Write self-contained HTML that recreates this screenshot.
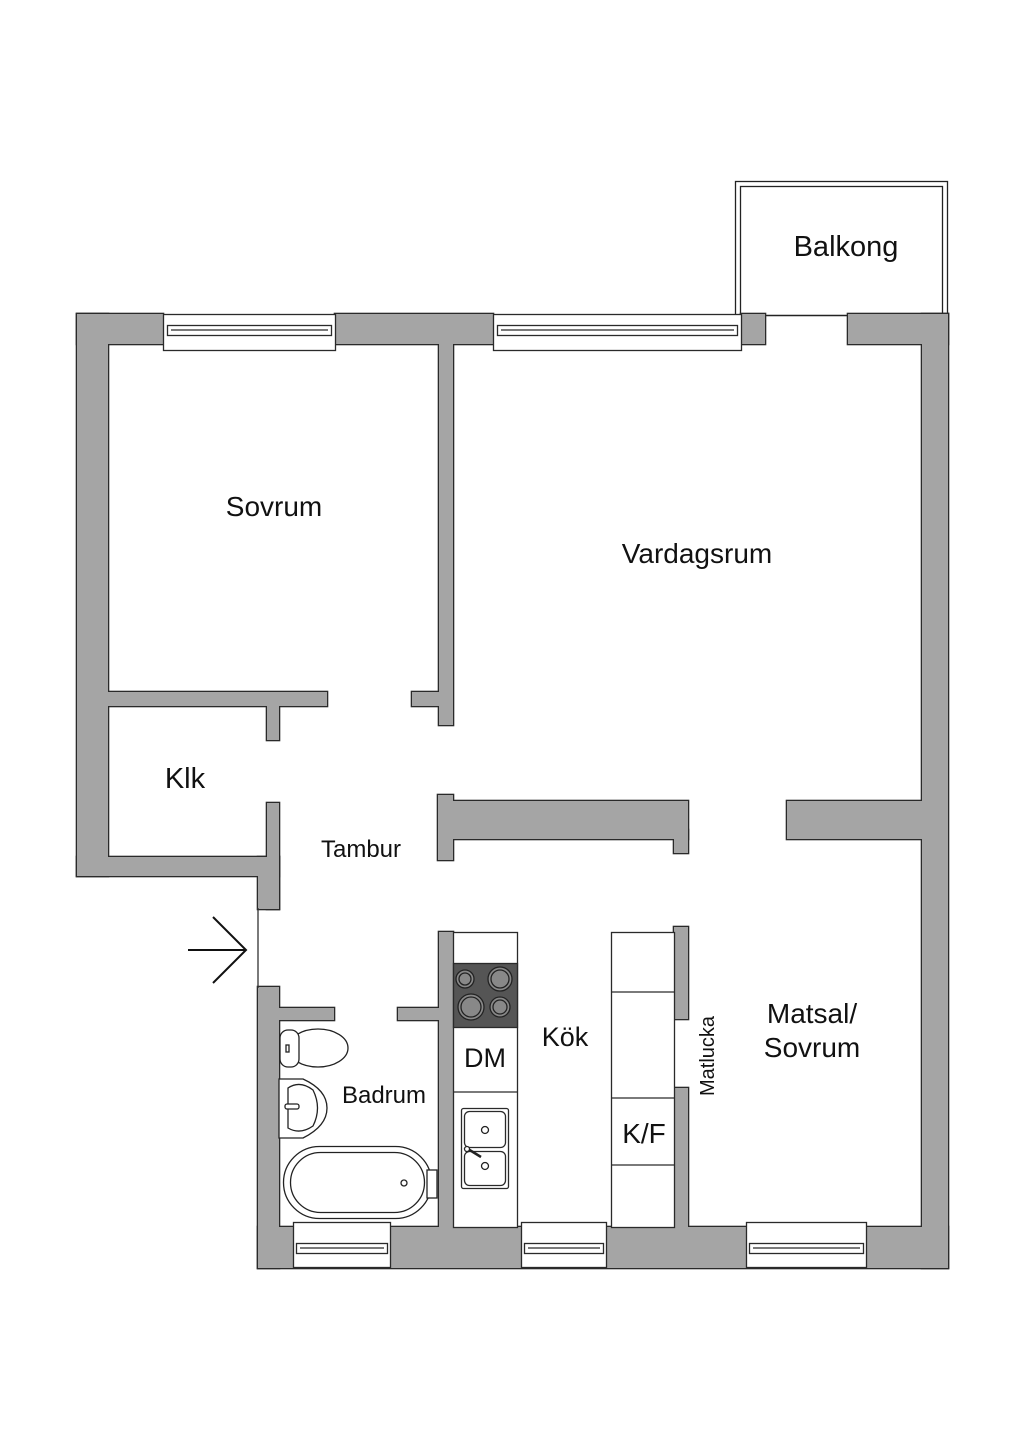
<!DOCTYPE html>
<html><head><meta charset="utf-8"><style>
html,body{margin:0;padding:0;background:#fff;}
svg{display:block;}
text{font-family:"Liberation Sans",sans-serif;fill:#111;}
</style></head><body>
<svg width="1024" height="1448" viewBox="0 0 1024 1448" xmlns="http://www.w3.org/2000/svg">
<rect width="1024" height="1448" fill="#fff"/>
<!-- balcony -->
<rect x="735.5" y="181.5" width="212" height="134" fill="#fff" stroke="#222" stroke-width="1.3"/>
<rect x="740.5" y="186.5" width="202" height="129" fill="none" stroke="#222" stroke-width="1.3"/>
<defs>
<g id="walls">
<rect x="77" y="314" width="86" height="30"/>
<rect x="335" y="314" width="158" height="30"/>
<rect x="741" y="314" width="24" height="30"/>
<rect x="848" y="314" width="100" height="30"/>
<rect x="77" y="314" width="31" height="562"/>
<rect x="77" y="857" width="202" height="19"/>
<rect x="258" y="857" width="21" height="52"/>
<rect x="267" y="803" width="12" height="106"/>
<rect x="108" y="692" width="219" height="14"/>
<rect x="267" y="700" width="12" height="40"/>
<rect x="439" y="330" width="14" height="395"/>
<rect x="412" y="692" width="30" height="14"/>
<rect x="438" y="795" width="15" height="65"/>
<rect x="450" y="801" width="238" height="38"/>
<rect x="674" y="830" width="14" height="23"/>
<rect x="787" y="801" width="140" height="38"/>
<rect x="922" y="314" width="26" height="954"/>
<rect x="258" y="987" width="21" height="281"/>
<rect x="275" y="1008" width="59" height="12"/>
<rect x="398" y="1008" width="44" height="12"/>
<rect x="439" y="932" width="14" height="300"/>
<rect x="674" y="927" width="14" height="92"/>
<rect x="674" y="1088" width="14" height="140"/>
<rect x="258" y="1227" width="690" height="41"/>
</g>
</defs>
<use href="#walls" fill="#a5a5a5" stroke="#2a2a2a" stroke-width="2.6"/>
<use href="#walls" fill="#a5a5a5" stroke="none"/>
<!-- entrance line -->
<line x1="258" y1="908" x2="258" y2="988" stroke="#333" stroke-width="1.3"/>
<!-- arrow -->
<g stroke="#111" stroke-width="2" fill="none">
<line x1="188" y1="950" x2="246" y2="950"/>
<polyline points="213,917 246,950 213,983"/>
</g>
<!-- top windows -->
<g fill="#fff" stroke="#2a2a2a" stroke-width="1.3">
<rect x="163.5" y="314.5" width="172" height="36"/>
<rect x="167.5" y="325.5" width="164" height="10"/>
<line x1="171" y1="330" x2="328" y2="330"/>
<rect x="493.5" y="314.5" width="248" height="36"/>
<rect x="497.5" y="325.5" width="240" height="10"/>
<line x1="501" y1="330" x2="734" y2="330"/>
</g>
<!-- bottom windows -->
<g fill="#fff" stroke="#2a2a2a" stroke-width="1.3">
<rect x="293.5" y="1222.5" width="97" height="45"/>
<rect x="296.5" y="1243.5" width="91" height="10"/>
<line x1="300" y1="1248" x2="384" y2="1248"/>
<rect x="521.5" y="1222.5" width="85" height="45"/>
<rect x="524.5" y="1243.5" width="79" height="10"/>
<line x1="528" y1="1248" x2="600" y2="1248"/>
<rect x="746.5" y="1222.5" width="120" height="45"/>
<rect x="749.5" y="1243.5" width="114" height="10"/>
<line x1="753" y1="1248" x2="860" y2="1248"/>
</g>
<!-- kitchen left cabinets -->
<g stroke="#2a2a2a" stroke-width="1.3" fill="#fff">
<rect x="453.5" y="932.5" width="64" height="295"/>
<rect x="453.5" y="963.5" width="64" height="64" fill="#555"/>
<line x1="453" y1="1092" x2="517" y2="1092"/>
<rect x="461.5" y="1108.5" width="47" height="80" rx="2"/>
<rect x="464.5" y="1111.5" width="41" height="36" rx="5"/>
<rect x="464.5" y="1151.5" width="41" height="34" rx="5"/>
</g>
<g stroke="#222" stroke-width="1.3" fill="#888">
<circle cx="465" cy="979" r="9"/><circle cx="465" cy="979" r="6"/>
<circle cx="500" cy="979" r="12"/><circle cx="500" cy="979" r="9"/>
<circle cx="471" cy="1007" r="13"/><circle cx="471" cy="1007" r="10"/>
<circle cx="500" cy="1007" r="10"/><circle cx="500" cy="1007" r="7"/>
</g>
<g stroke="#222" stroke-width="1.3" fill="#fff">
<circle cx="485" cy="1130" r="3.5"/><circle cx="485" cy="1166" r="3.5"/>
<line x1="468" y1="1149" x2="481" y2="1157" stroke-width="2.5"/>
<circle cx="467" cy="1149" r="2.5"/>
</g>
<!-- right cabinets -->
<g stroke="#2a2a2a" stroke-width="1.3" fill="#fff">
<rect x="611.5" y="932.5" width="63" height="295"/>
<line x1="611" y1="992" x2="674" y2="992"/>
<line x1="611" y1="1098" x2="674" y2="1098"/>
<line x1="611" y1="1165" x2="674" y2="1165"/>
</g>
<!-- bathroom fixtures -->
<g stroke="#222" stroke-width="1.3" fill="#fff">
<ellipse cx="318" cy="1048" rx="30" ry="19"/>
<rect x="280" y="1030" width="19" height="37" rx="8"/>
<rect x="286" y="1045" width="3" height="7"/>
<path d="M279,1079 H303 Q327,1090 327,1108 Q327,1126 303,1138 H279 Z"/>
<path d="M288,1088 Q300,1080 313,1090 Q322,1108 313,1126 Q300,1135 288,1128 Z"/>
<rect x="285" y="1104" width="14" height="5" rx="2"/>
<rect x="283.5" y="1146.5" width="148" height="72" rx="36"/>
<rect x="290.5" y="1152.5" width="134" height="60" rx="30"/>
<circle cx="404" cy="1183" r="3"/>
<rect x="427" y="1170" width="10" height="28"/>
</g>
<!-- labels -->
<text x="274" y="516" font-size="28" text-anchor="middle">Sovrum</text>
<text x="697" y="563" font-size="28" text-anchor="middle">Vardagsrum</text>
<text x="846" y="256" font-size="29" text-anchor="middle">Balkong</text>
<text x="185" y="788" font-size="29" text-anchor="middle">Klk</text>
<text x="361" y="857" font-size="24" text-anchor="middle">Tambur</text>
<text x="812" y="1023" font-size="28" text-anchor="middle">Matsal/</text>
<text x="812" y="1057" font-size="28" text-anchor="middle">Sovrum</text>
<text x="565" y="1046" font-size="27" text-anchor="middle">Kök</text>
<text x="485" y="1067" font-size="27" text-anchor="middle">DM</text>
<text x="644" y="1143" font-size="28" text-anchor="middle">K/F</text>
<text x="384" y="1103" font-size="24" text-anchor="middle">Badrum</text>
<text x="0" y="0" font-size="20" text-anchor="middle" transform="translate(714,1056) rotate(-90)">Matlucka</text>
</svg>
</body></html>
